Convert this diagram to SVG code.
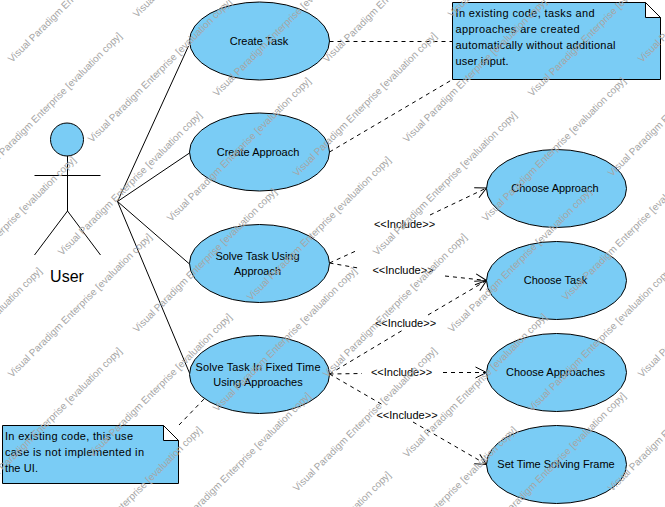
<svg xmlns="http://www.w3.org/2000/svg" width="665" height="507" viewBox="0 0 665 507">
<style>
text{font-family:"Liberation Sans",Arial,sans-serif;font-size:11px;fill:#000}
.shape{fill:#7accf5;stroke:#000;stroke-width:1}
.line{fill:none;stroke:#000;stroke-width:1}
.dash{fill:none;stroke:#000;stroke-width:1;stroke-dasharray:4 4}
.c{text-anchor:middle}
.wm text{font-size:10px;fill:#a6a6a6}
</style>
<defs>
<marker id="open" markerUnits="userSpaceOnUse" markerWidth="16" markerHeight="16" refX="14" refY="8" orient="auto" overflow="visible">
<path d="M3,2.5 L14,8 L3,13.5" fill="none" stroke="#000" stroke-width="1"/>
</marker>
</defs>
<rect width="665" height="507" fill="#fff"/>
<g id="connectors">
<path class="line" d="M117.5,201.5 L188.5,46"/>
<path class="line" d="M117.5,201.5 L189.5,153"/>
<path class="line" d="M117.5,201.5 L189.5,264"/>
<path class="line" d="M117.5,201.5 L189.5,373"/>
<path class="dash" d="M329.5,41.5 L452.5,41.5"/>
<path class="dash" d="M329.5,152 L452.5,79.5"/>
<path class="dash" d="M179,425 L205,398"/>
<path class="dash" d="M329.5,263 L358,250"/>
<path class="dash" d="M430,215 L486.5,188" marker-end="url(#open)"/>
<path class="dash" d="M329.5,263 L358,268"/>
<path class="dash" d="M445,276 L486.5,280.5" marker-end="url(#open)"/>
<path class="dash" d="M329.5,374 L403,330"/>
<path class="dash" d="M428,315 L486.5,280.5" marker-end="url(#open)"/>
<path class="dash" d="M329.5,374 L362,373.5"/>
<path class="dash" d="M443,372.5 L486.5,372.5" marker-end="url(#open)"/>
<path class="dash" d="M329.5,374 L383,405"/>
<path class="dash" d="M413,422 L486.5,464.5" marker-end="url(#open)"/>
</g>
<g id="actor-user">
<circle class="shape" cx="67" cy="139.5" r="16.5"/>
<path class="line" d="M67.5,156 V211 M34.5,175.5 H100.5 M67.5,211 L34.5,255 M67.5,211 L100.5,255"/>
<text class="c" x="67" y="282" style="font-size:16px">User</text>
</g>
<g id="uc-create-task"><ellipse class="shape" cx="259.5" cy="41" rx="70" ry="39"/><text class="c" x="259" y="45">Create Task</text></g>
<g id="uc-create-approach"><ellipse class="shape" cx="259.5" cy="152" rx="70" ry="39"/><text class="c" x="258" y="156">Create Approach</text></g>
<g id="uc-solve-task"><ellipse class="shape" cx="259.5" cy="263.5" rx="70" ry="39"/><text class="c" x="257.500" y="260">Solve Task Using</text><text class="c" x="257.500" y="275">Approach</text></g>
<g id="uc-solve-fixed"><ellipse class="shape" cx="259.500" cy="374.500" rx="70" ry="39"/><text class="c" x="258" y="371" textLength="125">Solve Task In Fixed Time</text><text class="c" x="258" y="386">Using Approaches</text></g>
<g id="uc-choose-approach"><ellipse class="shape" cx="556.500" cy="188.500" rx="70" ry="39"/><text class="c" x="555" y="192">Choose Approach</text></g>
<g id="uc-choose-task"><ellipse class="shape" cx="556.500" cy="280.500" rx="70" ry="39"/><text class="c" x="555.500" y="284">Choose Task</text></g>
<g id="uc-choose-approaches"><ellipse class="shape" cx="556.500" cy="372.500" rx="70" ry="39"/><text class="c" x="555.500" y="376">Choose Approaches</text></g>
<g id="uc-set-time"><ellipse class="shape" cx="556.500" cy="464.500" rx="70" ry="39"/><text class="c" x="556" y="468">Set Time Solving Frame</text></g>
<g id="note-1">
<path class="shape" d="M452.500,2.500 H645.500 L660.500,17.500 V79.500 H452.500 Z"/>
<path class="shape" style="fill:#fff" d="M645.500,2.500 V17.500 H660.500 Z"/>
<text x="455.500" y="17" textLength="139">In existing code, tasks and</text>
<text x="455.500" y="33" textLength="124">approaches are created</text>
<text x="455.500" y="49" textLength="160">automatically without additional</text>
<text x="455.500" y="65" textLength="53">user input.</text>
</g>
<g id="note-2">
<path class="shape" d="M2.500,425.500 H163.500 L178.500,440.500 V483.500 H2.500 Z"/>
<path class="shape" style="fill:#fff" d="M163.500,425.500 V440.500 H178.500 Z"/>
<text x="5" y="439.500" textLength="128">In existing code, this use</text>
<text x="5" y="455.500" textLength="139">case is not implemented in</text>
<text x="5" y="471.500" textLength="33">the UI.</text>
</g>
<g id="include-labels">
<text class="c" x="404.500" y="228">&lt;&lt;Include&gt;&gt;</text>
<text class="c" x="403" y="274">&lt;&lt;Include&gt;&gt;</text>
<text class="c" x="405.500" y="327">&lt;&lt;Include&gt;&gt;</text>
<text class="c" x="401.500" y="376">&lt;&lt;Include&gt;&gt;</text>
<text class="c" x="407" y="419">&lt;&lt;Include&gt;&gt;</text>
</g>
<g class="wm">
<text transform="translate(12,63) rotate(-45)">Visual Paradigm Enterprise [evaluation copy]</text>
<text transform="translate(327,63) rotate(-45)">Visual Paradigm Enterprise [evaluation copy]</text>
<text transform="translate(642,63) rotate(-45)">Visual Paradigm Enterprise [evaluation copy]</text>
<text transform="translate(92,143) rotate(-45)">Visual Paradigm Enterprise [evaluation copy]</text>
<text transform="translate(407,143) rotate(-45)">Visual Paradigm Enterprise [evaluation copy]</text>
<text transform="translate(171,222) rotate(-45)">Visual Paradigm Enterprise [evaluation copy]</text>
<text transform="translate(486,222) rotate(-45)">Visual Paradigm Enterprise [evaluation copy]</text>
<text transform="translate(-64,301) rotate(-45)">Visual Paradigm Enterprise [evaluation copy]</text>
<text transform="translate(251,301) rotate(-45)">Visual Paradigm Enterprise [evaluation copy]</text>
<text transform="translate(566,301) rotate(-45)">Visual Paradigm Enterprise [evaluation copy]</text>
<text transform="translate(137,18) rotate(-45)">Visual Paradigm Enterprise [evaluation copy]</text>
<text transform="translate(452,18) rotate(-45)">Visual Paradigm Enterprise [evaluation copy]</text>
<text transform="translate(217,97) rotate(-45)">Visual Paradigm Enterprise [evaluation copy]</text>
<text transform="translate(532,97) rotate(-45)">Visual Paradigm Enterprise [evaluation copy]</text>
<text transform="translate(-18,177) rotate(-45)">Visual Paradigm Enterprise [evaluation copy]</text>
<text transform="translate(297,177) rotate(-45)">Visual Paradigm Enterprise [evaluation copy]</text>
<text transform="translate(612,177) rotate(-45)">Visual Paradigm Enterprise [evaluation copy]</text>
<text transform="translate(62,256) rotate(-45)">Visual Paradigm Enterprise [evaluation copy]</text>
<text transform="translate(377,256) rotate(-45)">Visual Paradigm Enterprise [evaluation copy]</text>
<text transform="translate(12,378) rotate(-45)">Visual Paradigm Enterprise [evaluation copy]</text>
<text transform="translate(327,378) rotate(-45)">Visual Paradigm Enterprise [evaluation copy]</text>
<text transform="translate(642,378) rotate(-45)">Visual Paradigm Enterprise [evaluation copy]</text>
<text transform="translate(92,458) rotate(-45)">Visual Paradigm Enterprise [evaluation copy]</text>
<text transform="translate(407,458) rotate(-45)">Visual Paradigm Enterprise [evaluation copy]</text>
<text transform="translate(171,537) rotate(-45)">Visual Paradigm Enterprise [evaluation copy]</text>
<text transform="translate(486,537) rotate(-45)">Visual Paradigm Enterprise [evaluation copy]</text>
<text transform="translate(251,616) rotate(-45)">Visual Paradigm Enterprise [evaluation copy]</text>
<text transform="translate(137,333) rotate(-45)">Visual Paradigm Enterprise [evaluation copy]</text>
<text transform="translate(452,333) rotate(-45)">Visual Paradigm Enterprise [evaluation copy]</text>
<text transform="translate(-98,412) rotate(-45)">Visual Paradigm Enterprise [evaluation copy]</text>
<text transform="translate(217,412) rotate(-45)">Visual Paradigm Enterprise [evaluation copy]</text>
<text transform="translate(532,412) rotate(-45)">Visual Paradigm Enterprise [evaluation copy]</text>
<text transform="translate(-18,492) rotate(-45)">Visual Paradigm Enterprise [evaluation copy]</text>
<text transform="translate(297,492) rotate(-45)">Visual Paradigm Enterprise [evaluation copy]</text>
<text transform="translate(612,492) rotate(-45)">Visual Paradigm Enterprise [evaluation copy]</text>
<text transform="translate(62,571) rotate(-45)">Visual Paradigm Enterprise [evaluation copy]</text>
<text transform="translate(377,571) rotate(-45)">Visual Paradigm Enterprise [evaluation copy]</text>
</g>
</svg>
